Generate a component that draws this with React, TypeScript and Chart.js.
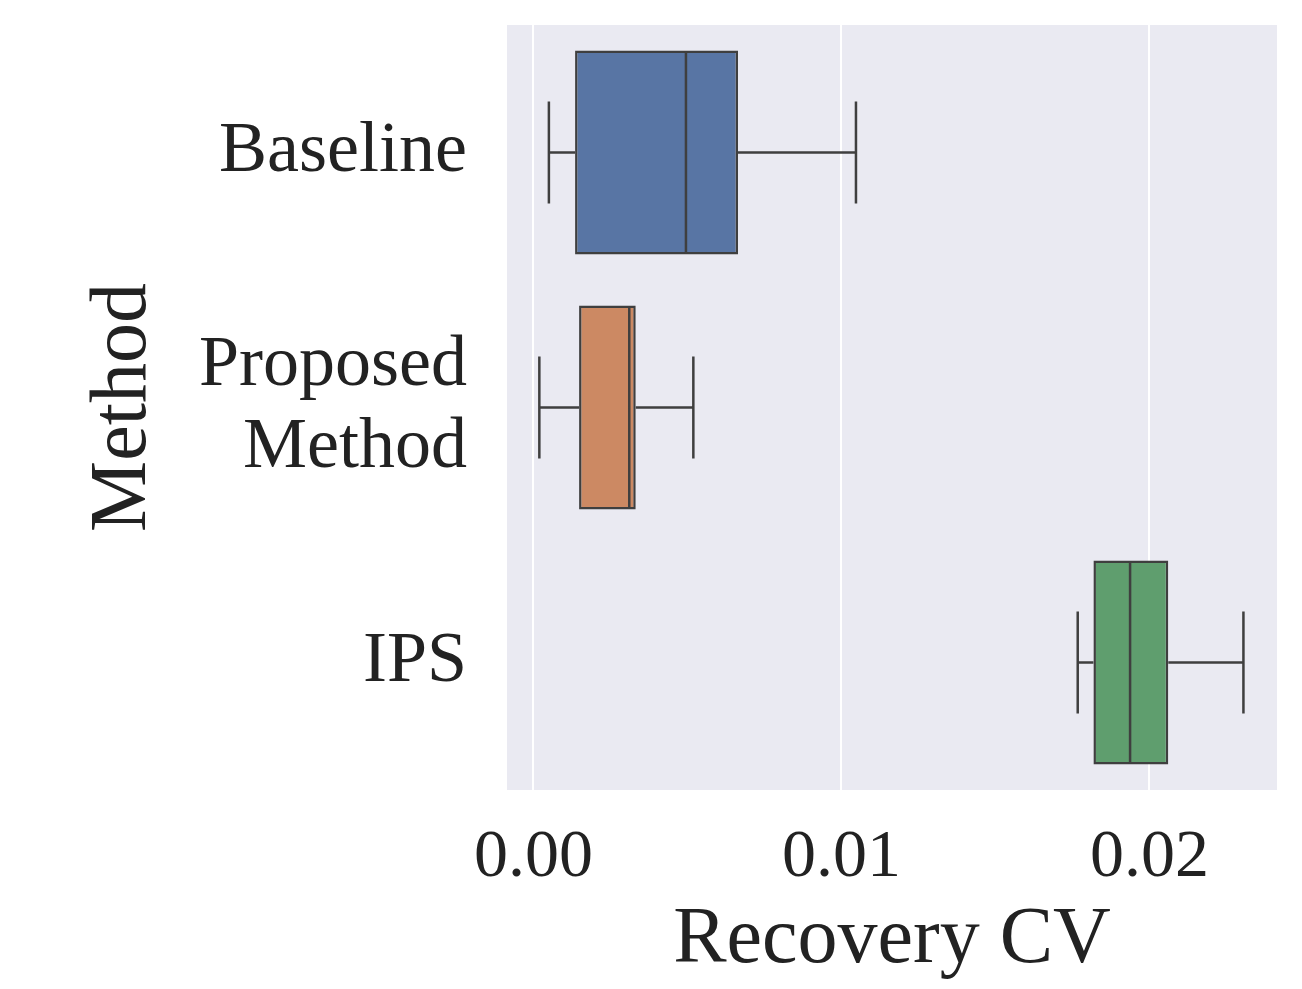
import React, { useEffect, useRef } from 'react';
import { Chart, registerables } from 'chart.js';

Chart.register(...registerables);

// ---- Data ----
const categories: (string | string[])[] = ['Baseline', ['Proposed', 'Method'], 'IPS'];
const whiskerLow = [0.0005, 0.00019, 0.01767];
const q1Values = [0.00135, 0.00148, 0.01818];
const medianValues = [0.00495, 0.00311, 0.01937];
const q3Values = [0.00664, 0.00332, 0.02061];
const whiskerHigh = [0.01047, 0.00519, 0.02305];
const xTickValues = [0, 0.01, 0.02];
const xMin = -0.00086;
const xMax = 0.02414;
const xTitle = 'Recovery CV';
const yTitle = 'Method';

// ---- Styles ----
const boxColors = ['#5875A4', '#CC8963', '#5F9E6E'];
const LINE = '#3f3f3f';
const TEXT = '#222222';
const FONT = "'Liberation Serif', 'DejaVu Serif', serif";

const bgPlugin = {
  id: 'plotBg',
  beforeDraw(chart: any) {
    const { ctx, chartArea } = chart;
    if (!chartArea) return;
    ctx.save();
    ctx.fillStyle = '#EAEAF2';
    ctx.fillRect(chartArea.left, chartArea.top, chartArea.right - chartArea.left, chartArea.bottom - chartArea.top);
    ctx.restore();
  },
};

const boxPlugin = {
  id: 'boxWhiskers',
  afterDatasetsDraw(chart: any) {
    const { ctx } = chart;
    const xs = chart.scales.x;
    const ys = chart.scales.y;
    const meta = chart.getDatasetMeta(0);
    ctx.save();
    ctx.strokeStyle = LINE;
    ctx.lineWidth = 2.5;
    ctx.lineCap = 'butt';
    meta.data.forEach((bar: any, i: number) => {
      const { height } = bar.getProps(['height'], true);
      const cy = ys.getPixelForValue(i);
      const half = height / 2;
      const cap = height / 4;
      const xLo = xs.getPixelForValue(whiskerLow[i]);
      const xQ1 = xs.getPixelForValue(q1Values[i]);
      const xMed = xs.getPixelForValue(medianValues[i]);
      const xQ3 = xs.getPixelForValue(q3Values[i]);
      const xHi = xs.getPixelForValue(whiskerHigh[i]);
      ctx.beginPath();
      ctx.moveTo(xLo, cy);
      ctx.lineTo(xQ1, cy);
      ctx.moveTo(xQ3, cy);
      ctx.lineTo(xHi, cy);
      ctx.moveTo(xLo, cy - cap);
      ctx.lineTo(xLo, cy + cap);
      ctx.moveTo(xHi, cy - cap);
      ctx.lineTo(xHi, cy + cap);
      ctx.moveTo(xMed, cy - half + 1);
      ctx.lineTo(xMed, cy + half - 1);
      ctx.stroke();
    });
    ctx.restore();
  },
};

export default function App() {
  const canvasRef = useRef<HTMLCanvasElement | null>(null);

  useEffect(() => {
    if (!canvasRef.current) return;
    const chart = new Chart(canvasRef.current, {
      type: 'bar',
      data: {
        labels: categories as any,
        datasets: [
          {
            data: q1Values.map((q, i) => [q, q3Values[i]]) as any,
            backgroundColor: boxColors,
            borderColor: LINE,
            borderWidth: 2.5,
            borderSkipped: false,
            categoryPercentage: 0.8,
            barPercentage: 1,
          },
        ],
      },
      options: {
        indexAxis: 'y',
        animation: false,
        responsive: true,
        maintainAspectRatio: false,
        layout: { padding: { top: 25, right: 25, left: 0, bottom: 0 } },
        plugins: {
          legend: { display: false },
          tooltip: { enabled: false },
        },
        scales: {
          x: {
            type: 'linear',
            min: xMin,
            max: xMax,
            afterBuildTicks: (scale: any) => {
              scale.ticks = xTickValues.map((value) => ({ value }));
            },
            afterFit: (scale: any) => {
              scale.height = 199;
              scale.paddingLeft = 0;
              scale.paddingRight = 0;
            },
            grid: { color: '#FFFFFF', lineWidth: 2, drawTicks: false },
            border: { display: false },
            ticks: {
              autoSkip: false,
              maxRotation: 0,
              padding: 27,
              color: TEXT,
              font: { family: FONT, size: 68, lineHeight: 1.2 },
              callback: (v: any) => Number(v).toFixed(2),
            },
            title: {
              display: true,
              text: xTitle,
              color: TEXT,
              font: { family: FONT, size: 80, lineHeight: 1.2 },
              padding: { top: 0, bottom: 0 },
            },
          },
          y: {
            type: 'category',
            afterFit: (scale: any) => {
              scale.width = 507;
              scale.paddingTop = 0;
              scale.paddingBottom = 0;
            },
            grid: { display: false, drawTicks: false },
            border: { display: false },
            ticks: {
              padding: 40,
              color: TEXT,
              font: { family: FONT, size: 72, lineHeight: 1.14 },
            },
            title: {
              display: true,
              text: yTitle,
              color: TEXT,
              font: { family: FONT, size: 80, lineHeight: 1.2 },
              padding: { top: 76, bottom: 0 },
            },
          },
        },
      },
      plugins: [bgPlugin, boxPlugin],
    } as any);
    return () => chart.destroy();
  }, []);

  return (
    <div style={{ position: 'absolute', left: 0, top: 0, width: 1302, height: 989, background: '#FFFFFF' }}>
      <canvas ref={canvasRef} />
    </div>
  );
}
